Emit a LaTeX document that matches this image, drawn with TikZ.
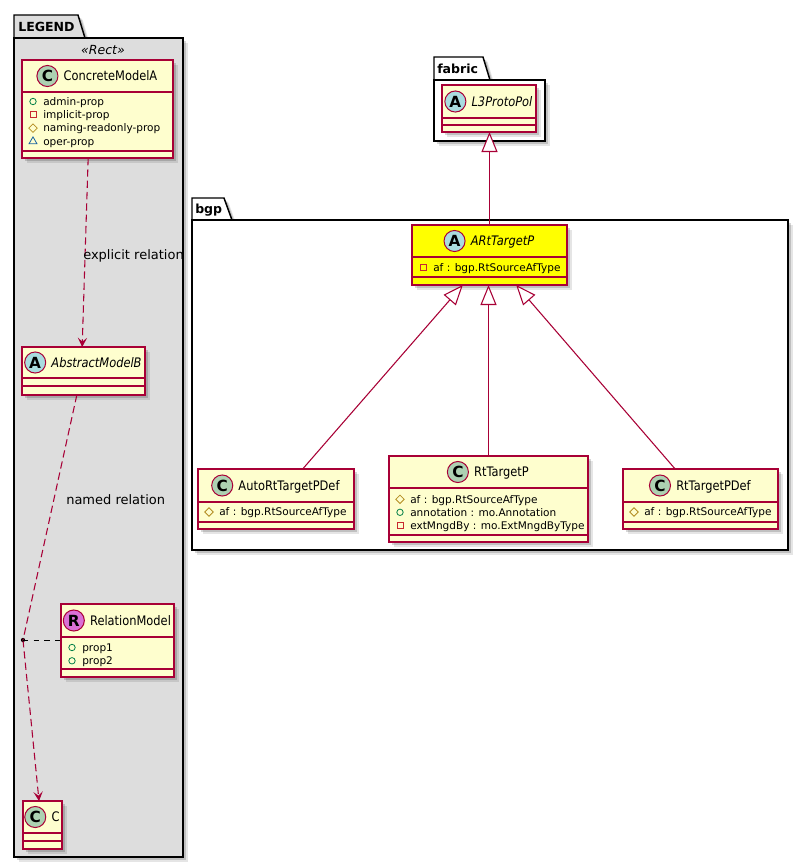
\documentclass[tikz,border=0pt]{standalone}
\usepackage{fontspec}
\setmainfont{DejaVu Sans}
\newfontfamily\namefont[FakeStretch=0.87]{DejaVu Sans}
\usetikzlibrary{arrows.meta,shadows,fit,calc,shapes.geometric}
\definecolor{umlred}{HTML}{A80036}
\definecolor{umlfill}{HTML}{FEFECE}
\definecolor{legendgray}{HTML}{DDDDDD}
\definecolor{cgreen}{HTML}{ADD1B2}
\definecolor{ablue}{HTML}{A9DCDF}
\definecolor{rpink}{HTML}{DA70D6}
\definecolor{pubgreen}{HTML}{038048}
\definecolor{privred}{HTML}{C82930}
\definecolor{protgold}{HTML}{B38D22}
\definecolor{pkgblue}{HTML}{1963A0}
\definecolor{umlyellow}{HTML}{FFFF00}
\tikzset{
  boxshadow/.style={general shadow={shadow xshift=3.4pt, shadow yshift=-3.4pt, fill=black, opacity=0.10},
                    general shadow={shadow xshift=2.3pt, shadow yshift=-2.3pt, fill=black, opacity=0.16}},
  classbox/.style={draw=umlred, fill=umlfill, line width=1.1pt, inner sep=0pt, outer sep=0pt, boxshadow},
  pkgbox/.style={draw=black, fill=white, line width=1.1pt, inner sep=0pt, outer sep=0pt, boxshadow},
  pkgtab/.style={draw=black, line width=1.1pt, boxshadow},
  pkgtitle/.style={anchor=west, inner sep=0pt, font=\bfseries\fontsize{9.4pt}{11pt}\selectfont, text height=6.9pt, text depth=0pt},
  stereo/.style={inner sep=0pt, font=\itshape\fontsize{9.4pt}{11pt}\selectfont},
  sepline/.style={draw=umlred, line width=1.1pt},
  cname/.style={anchor=center, inner sep=0pt, font=\namefont\fontsize{9.85pt}{11pt}\selectfont, text height=7.2pt, text depth=0pt},
  spot/.style={circle, draw=umlred, line width=0.75pt, minimum size=15.8pt, inner sep=0pt, font=\bfseries\fontsize{11.5pt}{12pt}\selectfont},
  attr/.style={anchor=west, inner sep=0pt, font=\fontsize{7.9pt}{9.5pt}\selectfont, text height=5.8pt, text depth=0pt},
  pubicon/.style={circle, draw=pubgreen, line width=0.6pt, minimum size=4.8pt, inner sep=0pt},
  privicon/.style={rectangle, draw=privred, line width=0.6pt, minimum size=4.6pt, inner sep=0pt},
  proticon/.style={diamond, draw=protgold, line width=0.6pt, minimum size=6.6pt, inner sep=0pt},
  pkgicon/.style={regular polygon, regular polygon sides=3, draw=pkgblue, line width=0.6pt, minimum size=6.8pt, inner sep=0pt},
  lbl/.style={anchor=west, inner sep=0pt, font=\fontsize{9.75pt}{11pt}\selectfont},
  inherit/.style={draw=umlred, line width=0.8pt, -{Triangle[length=15pt, width=12pt, fill=white]}},
  rel/.style={draw=umlred, line width=0.8pt, dash pattern=on 5.5pt off 3pt, -{Stealth[length=7pt, width=7pt, inset=3pt]}},
  assocdash/.style={draw=black, line width=0.6pt, dash pattern=on 4pt off 4pt},
}
\newcommand\umlhead[6]{%
  \node[cname] (#1-t) at (#2+13,#3) {#6};
  \node[spot, fill=#4] (#1-s) at ($(#1-t.west)+(-16,0)$) {#5};
}
\newcommand\umlattr[5]{%
  \node[#4] (#1-i) at (#2+11,#3) {};
  \node[attr] (#1) at (#2+21,#3) {#5};
}
\newcommand\umlsep[2]{\draw[sepline] (#1.west |- 0,#2) -- (#1.east |- 0,#2);}
\begin{document}
\begin{tikzpicture}[x=0.75pt,y=-0.75pt]
\useasboundingbox (0,0) rectangle (808,868);
\fill[white] (0,0) rectangle (808,868);

% ---------- LEGEND package
\filldraw[pkgtab, fill=legendgray] (14,38) -- (14,15) -- (78,15) -- (85,38);
\node[pkgbox, fill=legendgray, fit={(14,38)(183,857)}] (legend) {};
\node[pkgtitle] (legend-t) at (18,27) {LEGEND};
\node[stereo] (legend-st) at (103,50) {«Rect»};

% ---------- fabric package
\filldraw[pkgtab, fill=white] (434,80) -- (434,57) -- (483,57) -- (490,80);
\node[pkgbox, fit={(434,80)(545,141)}] (fabric) {};
\node[pkgtitle] (fabric-t) at (437,69) {fabric};

% ---------- bgp package
\filldraw[pkgtab, fill=white] (192,220) -- (192,198) -- (224,198) -- (232,220);
\node[pkgbox, fit={(192,220)(788,550)}] (bgp) {};
\node[pkgtitle] (bgp-t) at (195,209) {bgp};

% ---------- ConcreteModelA
\node[classbox, fit={(22,60)(173,158)}] (CMA) {};
\umlsep{CMA}{92}
\umlsep{CMA}{151}
\umlhead{CMA}{97.5}{76}{cgreen}{C}{ConcreteModelA}
\umlattr{CMA-a1}{22}{101.5}{pubicon}{admin-prop}
\umlattr{CMA-a2}{22}{114.8}{privicon}{implicit-prop}
\umlattr{CMA-a3}{22}{128.1}{proticon}{naming-readonly-prop}
\umlattr{CMA-a4}{22}{141.4}{pkgicon}{oper-prop}

% ---------- AbstractModelB
\node[classbox, fit={(22,347)(145,395)}] (ABM) {};
\umlsep{ABM}{378}
\umlsep{ABM}{386}
\umlhead{ABM}{83.5}{362.5}{ablue}{A}{\itshape AbstractModelB}

% ---------- RelationModel
\node[classbox, fit={(61,604)(174,677)}] (RM) {};
\umlsep{RM}{637}
\umlsep{RM}{669}
\umlhead{RM}{117.5}{620.5}{rpink}{R}{RelationModel}
\umlattr{RM-a1}{61}{647.5}{pubicon}{prop1}
\umlattr{RM-a2}{61}{660.8}{pubicon}{prop2}

% ---------- C
\node[classbox, fit={(23,801)(62,849)}] (CC) {};
\umlsep{CC}{833}
\umlsep{CC}{841}
\umlhead{CC}{42.5}{817}{cgreen}{C}{C}

% ---------- L3ProtoPol
\node[classbox, fit={(442,85)(536,132)}] (L3) {};
\umlsep{L3}{118}
\umlsep{L3}{125}
\umlhead{L3}{489}{101.5}{ablue}{A}{\itshape L3ProtoPol}

% ---------- ARtTargetP
\node[classbox, fill=umlyellow, fit={(412,225)(567,285)}] (ART) {};
\umlsep{ART}{257}
\umlsep{ART}{277}
\umlhead{ART}{489.5}{241}{ablue}{A}{\itshape ARtTargetP}
\umlattr{ART-a1}{412}{267.5}{privicon}{af : bgp.RtSourceAfType}

% ---------- AutoRtTargetPDef
\node[classbox, fit={(198,469)(354,529)}] (AUTO) {};
\umlsep{AUTO}{502}
\umlsep{AUTO}{522}
\umlhead{AUTO}{276}{485.5}{cgreen}{C}{AutoRtTargetPDef}
\umlattr{AUTO-a1}{198}{512}{proticon}{af : bgp.RtSourceAfType}

% ---------- RtTargetP
\node[classbox, fit={(389,456)(588,542)}] (RTP) {};
\umlsep{RTP}{488}
\umlsep{RTP}{535}
\umlhead{RTP}{488.5}{472}{cgreen}{C}{RtTargetP}
\umlattr{RTP-a1}{389}{499.3}{proticon}{af : bgp.RtSourceAfType}
\umlattr{RTP-a2}{389}{512.3}{pubicon}{annotation : mo.Annotation}
\umlattr{RTP-a3}{389}{525.3}{privicon}{extMngdBy : mo.ExtMngdByType}

% ---------- RtTargetPDef
\node[classbox, fit={(623,469)(778,529)}] (RTPD) {};
\umlsep{RTPD}{502}
\umlsep{RTPD}{522}
\umlhead{RTPD}{700.5}{485.5}{cgreen}{C}{RtTargetPDef}
\umlattr{RTPD-a1}{623}{512}{proticon}{af : bgp.RtSourceAfType}

% ---------- inheritance connectors
\draw[inherit] (ART.north) -- (ART.north |- L3.south);
\draw[inherit] ([xshift=20pt]AUTO.north) -- ([xshift=-20pt]ART.south);
\draw[inherit] (RTP.north) -- (RTP.north |- ART.south);
\draw[inherit] ([xshift=-19pt]RTPD.north) -- ([xshift=20pt]ART.south);

% ---------- legend relations
\node[circle, fill=black, inner sep=0pt, minimum size=3.2pt] (dot) at (23,640) {};
\draw[rel] ([xshift=-7pt]CMA.south) -- ([xshift=-1pt]ABM.north);
\node[lbl] (lbl-e) at (83,256) {explicit relation};
\draw[rel, -] ([xshift=-5pt]ABM.south) -- (dot.center);
\draw[rel] (dot.center) -- ([xshift=-2.6pt]CC.north);
\draw[assocdash] (dot.center) -- (RM.west |- dot.center);
\node[lbl] (lbl-n) at (66,500) {named relation};
\end{tikzpicture}
\end{document}
